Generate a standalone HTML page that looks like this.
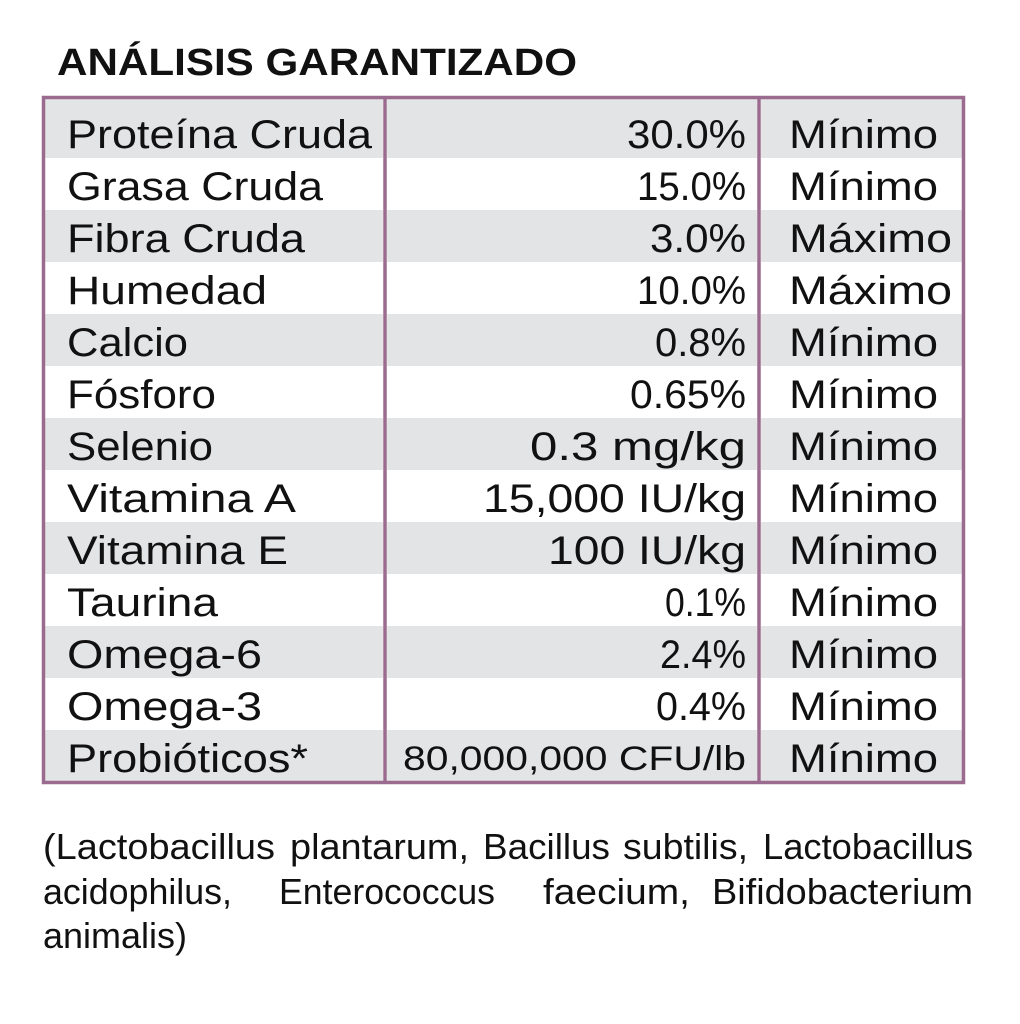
<!DOCTYPE html>
<html><head><meta charset="utf-8"><style>
html,body{margin:0;padding:0;background:#fff;width:1020px;height:1024px;overflow:hidden}
svg text{font-family:"Liberation Sans",sans-serif;fill:#111}
</style></head><body>
<svg width="1020" height="1024" viewBox="0 0 1020 1024" xmlns="http://www.w3.org/2000/svg">
<text x="57" y="75" font-size="38" font-weight="bold" textLength="520" lengthAdjust="spacingAndGlyphs">ANÁLISIS GARANTIZADO</text>
<g fill="#e3e4e6">
<rect x="45" y="99" width="338" height="59"/><rect x="387" y="99" width="370" height="59"/><rect x="761" y="99" width="201" height="59"/>
<rect x="45" y="210" width="338" height="52"/><rect x="387" y="210" width="370" height="52"/><rect x="761" y="210" width="201" height="52"/>
<rect x="45" y="314" width="338" height="52"/><rect x="387" y="314" width="370" height="52"/><rect x="761" y="314" width="201" height="52"/>
<rect x="45" y="418" width="338" height="52"/><rect x="387" y="418" width="370" height="52"/><rect x="761" y="418" width="201" height="52"/>
<rect x="45" y="522" width="338" height="52"/><rect x="387" y="522" width="370" height="52"/><rect x="761" y="522" width="201" height="52"/>
<rect x="45" y="626" width="338" height="52"/><rect x="387" y="626" width="370" height="52"/><rect x="761" y="626" width="201" height="52"/>
<rect x="45" y="730" width="338" height="51"/><rect x="387" y="730" width="370" height="51"/><rect x="761" y="730" width="201" height="51"/>
</g>
<g fill="none" stroke="#9b6b8f" stroke-width="3.5">
<rect x="43.5" y="97.5" width="920" height="685"/>
<line x1="385" y1="97" x2="385" y2="783"/>
<line x1="759" y1="97" x2="759" y2="783"/>
</g>
<g font-size="40">
<text x="67" y="148" textLength="305" lengthAdjust="spacingAndGlyphs">Proteína Cruda</text>
<text x="67" y="200" textLength="256" lengthAdjust="spacingAndGlyphs">Grasa Cruda</text>
<text x="67" y="252" textLength="238" lengthAdjust="spacingAndGlyphs">Fibra Cruda</text>
<text x="67" y="304" textLength="200" lengthAdjust="spacingAndGlyphs">Humedad</text>
<text x="67" y="356" textLength="121" lengthAdjust="spacingAndGlyphs">Calcio</text>
<text x="67" y="408" textLength="149" lengthAdjust="spacingAndGlyphs">Fósforo</text>
<text x="67" y="460" textLength="146" lengthAdjust="spacingAndGlyphs">Selenio</text>
<text x="67" y="512" textLength="229" lengthAdjust="spacingAndGlyphs">Vitamina A</text>
<text x="67" y="564" textLength="221" lengthAdjust="spacingAndGlyphs">Vitamina E</text>
<text x="67" y="616" textLength="151" lengthAdjust="spacingAndGlyphs">Taurina</text>
<text x="67" y="668" textLength="195" lengthAdjust="spacingAndGlyphs">Omega-6</text>
<text x="67" y="720" textLength="195" lengthAdjust="spacingAndGlyphs">Omega-3</text>
<text x="67" y="772" textLength="241" lengthAdjust="spacingAndGlyphs">Probióticos*</text>

<text x="627" y="148" textLength="119" lengthAdjust="spacingAndGlyphs">30.0%</text>
<text x="637" y="200" textLength="109" lengthAdjust="spacingAndGlyphs">15.0%</text>
<text x="650" y="252" textLength="96" lengthAdjust="spacingAndGlyphs">3.0%</text>
<text x="637" y="304" textLength="109" lengthAdjust="spacingAndGlyphs">10.0%</text>
<text x="655" y="356" textLength="91" lengthAdjust="spacingAndGlyphs">0.8%</text>
<text x="630" y="408" textLength="116" lengthAdjust="spacingAndGlyphs">0.65%</text>
<text x="530" y="460" textLength="216" lengthAdjust="spacingAndGlyphs">0.3 mg/kg</text>
<text x="483" y="512" textLength="263" lengthAdjust="spacingAndGlyphs">15,000 IU/kg</text>
<text x="548" y="564" textLength="198" lengthAdjust="spacingAndGlyphs">100 IU/kg</text>
<text x="665" y="616" textLength="81" lengthAdjust="spacingAndGlyphs">0.1%</text>
<text x="660" y="668" textLength="86" lengthAdjust="spacingAndGlyphs">2.4%</text>
<text x="656" y="720" textLength="90" lengthAdjust="spacingAndGlyphs">0.4%</text>
<text x="403" y="770" font-size="34" textLength="343" lengthAdjust="spacingAndGlyphs">80,000,000 CFU/lb</text>

<text x="789" y="148" textLength="149" lengthAdjust="spacingAndGlyphs">Mínimo</text>
<text x="789" y="200" textLength="149" lengthAdjust="spacingAndGlyphs">Mínimo</text>
<text x="789" y="252" textLength="163" lengthAdjust="spacingAndGlyphs">Máximo</text>
<text x="789" y="304" textLength="163" lengthAdjust="spacingAndGlyphs">Máximo</text>
<text x="789" y="356" textLength="149" lengthAdjust="spacingAndGlyphs">Mínimo</text>
<text x="789" y="408" textLength="149" lengthAdjust="spacingAndGlyphs">Mínimo</text>
<text x="789" y="460" textLength="149" lengthAdjust="spacingAndGlyphs">Mínimo</text>
<text x="789" y="512" textLength="149" lengthAdjust="spacingAndGlyphs">Mínimo</text>
<text x="789" y="564" textLength="149" lengthAdjust="spacingAndGlyphs">Mínimo</text>
<text x="789" y="616" textLength="149" lengthAdjust="spacingAndGlyphs">Mínimo</text>
<text x="789" y="668" textLength="149" lengthAdjust="spacingAndGlyphs">Mínimo</text>
<text x="789" y="720" textLength="149" lengthAdjust="spacingAndGlyphs">Mínimo</text>
<text x="789" y="772" textLength="149" lengthAdjust="spacingAndGlyphs">Mínimo</text>
</g>
<g font-size="36">
<text x="43" y="859" textLength="232" lengthAdjust="spacingAndGlyphs">(Lactobacillus</text>
<text x="290" y="859" textLength="179" lengthAdjust="spacingAndGlyphs">plantarum,</text>
<text x="483" y="859" textLength="127" lengthAdjust="spacingAndGlyphs">Bacillus</text>
<text x="623" y="859" textLength="125" lengthAdjust="spacingAndGlyphs">subtilis,</text>
<text x="763" y="859" textLength="210" lengthAdjust="spacingAndGlyphs">Lactobacillus</text>
<text x="43" y="904" textLength="189" lengthAdjust="spacingAndGlyphs">acidophilus,</text>
<text x="279" y="904" textLength="216" lengthAdjust="spacingAndGlyphs">Enterococcus</text>
<text x="543" y="904" textLength="147" lengthAdjust="spacingAndGlyphs">faecium,</text>
<text x="712" y="904" textLength="261" lengthAdjust="spacingAndGlyphs">Bifidobacterium</text>
<text x="43" y="948" textLength="144" lengthAdjust="spacingAndGlyphs">animalis)</text>
</g>
</svg>
</body></html>
